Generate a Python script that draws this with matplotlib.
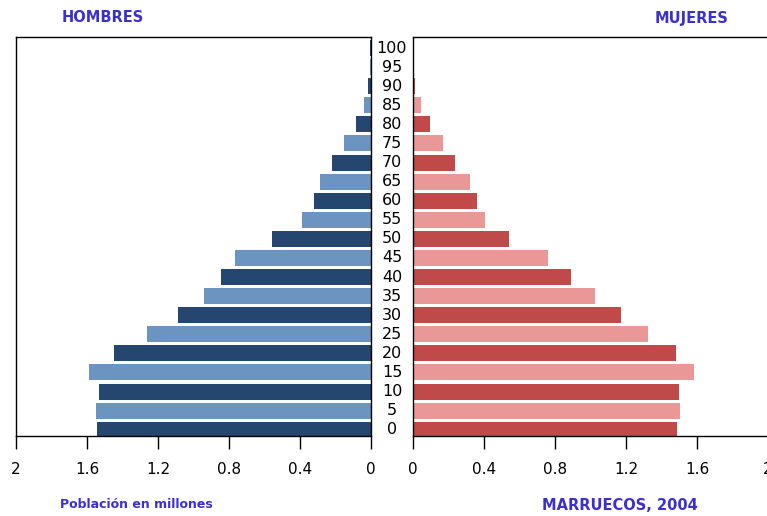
import numpy
from matplotlib import pyplot

ages = [0, 5, 10, 15, 20, 25, 30, 35, 40, 45, 50, 55, 60, 65, 70, 75, 80, 85, 90, 95, 100]
hombres = [1.544, 1.551, 1.53, 1.587, 1.446, 1.26, 1.087, 0.94, 0.845, 0.766, 0.558,
           0.389, 0.321, 0.287, 0.22, 0.152, 0.085, 0.04, 0.017, 0.008, 0.004]
mujeres = [1.489, 1.504, 1.497, 1.583, 1.484, 1.326, 1.172, 1.025, 0.89, 0.76, 0.541,
           0.406, 0.36, 0.32, 0.237, 0.169, 0.096, 0.045, 0.011, 0.003, 0.001]
xticks = [0, 0.4, 0.8, 1.2, 1.6, 2]
xticklabels = ['0', '0.4', '0.8', '1.2', '1.6', '2']

male_colors = ['#24466f', '#6b94c0']
female_colors = ['#c04a4a', '#e99797']
title_color = '#3b2fd2'

fig = pyplot.figure(figsize=(7.67, 5.16), dpi=100)
ax_l = fig.add_axes([16 / 767, 1 - 436 / 516, 355 / 767, 399 / 516])
ax_r = fig.add_axes([413 / 767, 1 - 436 / 516, 355 / 767, 399 / 516])

pos = numpy.arange(len(ages))
ax_l.barh(pos, hombres, height=0.84,
          color=[male_colors[i % 2] for i in range(len(ages))])
ax_r.barh(pos, mujeres, height=0.84,
          color=[female_colors[i % 2] for i in range(len(ages))])

for ax in (ax_l, ax_r):
    ax.set_xlim(0, 2)
    ax.set_ylim(-0.33, 20.58)
    ax.set_yticks([])
    ax.set_xticks(xticks)
    ax.set_xticklabels(xticklabels)
    ax.tick_params(axis='x', direction='out', length=9, width=1, pad=10,
                   labelsize=11, colors='black')
    for s in ax.spines.values():
        s.set_linewidth(1)
ax_l.invert_xaxis()

# age labels between the two halves
for p, a in zip(pos, ages):
    fig.text(392 / 767, ax_l.transData.transform((0, p))[1] / fig.bbox.height,
             str(a), ha='center', va='center', fontsize=11.5)

fig.text(103 / 767, 1 - 18 / 516, 'HOMBRES', color=title_color,
         fontsize=10.5, fontweight='bold', ha='center', va='center')
fig.text(692 / 767, 1 - 18 / 516, 'MUJERES', color=title_color,
         fontsize=10.5, fontweight='bold', ha='center', va='center')
fig.text(136 / 767, 1 - 505 / 516, 'Población en millones', color=title_color,
         fontsize=9, fontweight='bold', ha='center', va='center')
fig.text(620 / 767, 1 - 505 / 516, 'MARRUECOS, 2004', color=title_color,
         fontsize=10.5, fontweight='bold', ha='center', va='center')

pyplot.savefig('out.png', dpi=100)
